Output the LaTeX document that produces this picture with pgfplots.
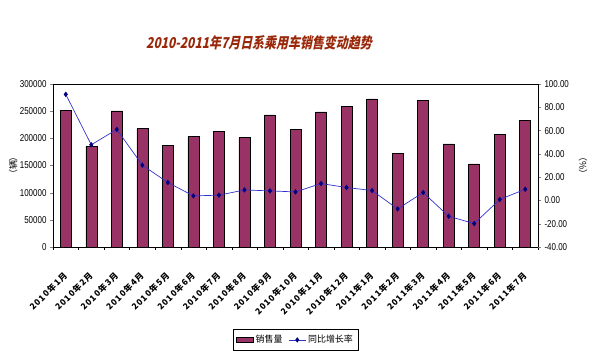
\documentclass[border=0pt]{standalone}
\usepackage{fontspec}
\usepackage{pgfplots}
\pgfplotsset{compat=1.18}
\setmainfont{Liberation Sans}
\newfontfamily\cjk{Noto Sans CJK SC}
\newfontfamily\cjkspaced[LetterSpace=12]{Noto Sans CJK SC}
\newfontfamily\titlefont[FakeSlant=0.2,FakeStretch=0.8]{Noto Sans CJK SC}
\newfontfamily\narrow[FakeStretch=0.8]{Liberation Sans}
\definecolor{barc}{RGB}{153,51,102}
\definecolor{linec}{RGB}{51,51,204}
\definecolor{markc}{RGB}{0,0,128}
\definecolor{titlec}{RGB}{153,40,10}
\begin{document}
\begin{tikzpicture}
\path[use as bounding box] (-53bp,-111bp) rectangle (542bp,247bp);
\node[font=\titlefont\bfseries\fontsize{15}{15}\selectfont, text=titlec] at (206bp,204bp) {2010-2011年7月日系乘用车销售变动趋势};
\begin{axis}[
  at={(0,0)}, anchor=south west, scale only axis,
  width=485bp, height=163bp,
  xmin=-0.5, xmax=18.5, ymin=0, ymax=300000,
  ytick={0,50000,100000,150000,200000,250000,300000},
  yticklabels={0,50000,100000,150000,200000,250000,300000},
  scaled y ticks=false,
  yticklabel style={font=\narrow\fontsize{10}{10}\selectfont},
  ytick pos=left, tick align=outside, major tick length=3bp,
  xtick={0,...,18},
  xtick pos=bottom,
  major x tick style={draw=none},
  minor xtick={-0.5,0.5,...,18.5},
  minor x tick style={black},
  minor tick length=3bp,
  xticklabels={2010年1月,2010年2月,2010年3月,2010年4月,2010年5月,2010年6月,2010年7月,2010年8月,2010年9月,2010年10月,2010年11月,2010年12月,2011年1月,2011年2月,2011年3月,2011年4月,2011年5月,2011年6月,2011年7月},
  xticklabel style={font=\cjkspaced\bfseries\fontsize{8.5}{8.5}\selectfont, rotate=45, anchor=east, inner sep=0pt},
  xticklabel shift=24bp,
  ylabel={\cjk （辆）},
  ylabel style={at={(axis description cs:-0.082,0.5)}, anchor=center, font=\fontsize{9}{9}\selectfont},
  axis line style={black, line width=0.5pt},
  legend style={at={(0.5,-0.57)}, anchor=center, legend columns=2, font=\cjk\fontsize{9}{9}\selectfont, draw=black, line width=0.5pt, inner ysep=4bp, /tikz/every even column/.append style={column sep=4bp}},
]
\addplot[ybar, bar width=11bp, fill=barc, draw=black, line width=0.5pt, area legend] coordinates {
(0,251000) (1,185300) (2,250500) (3,218500) (4,187700) (5,203700) (6,212200) (7,201200) (8,243000) (9,216600) (10,248500) (11,258200) (12,272400) (13,172400) (14,269300) (15,189600) (16,152800) (17,207400) (18,232500)};
\addlegendentry{销售量}
\addlegendimage{color=linec, line width=0.6pt, mark=diamond*, mark size=2.2pt, mark options={fill=markc, draw=markc}}
\addlegendentry{同比增长率}
\end{axis}
\begin{axis}[
  at={(0,0)}, anchor=south west, scale only axis,
  width=485bp, height=163bp,
  xmin=-0.5, xmax=18.5, ymin=-40, ymax=100,
  ytick={-40,-20,0,20,40,60,80,100},
  yticklabels={-40.00,-20.00,0.00,20.00,40.00,60.00,80.00,100.00},
  axis x line=none, axis y line*=right,
  tick align=outside, major tick length=3bp,
  yticklabel style={font=\narrow\fontsize{10}{10}\selectfont},
  ylabel={\cjk （\%）},
  ylabel style={at={(axis description cs:1.093,0.5)}, anchor=center, rotate=180, font=\fontsize{9}{9}\selectfont},
  axis line style={black, line width=0.5pt},
]
\addplot[color=linec, line width=0.7pt, mark=diamond*, mark size=2.2pt, mark options={fill=markc, draw=markc}] coordinates {
(0,91.1) (1,47.8) (2,61.0) (3,30.3) (4,15.4) (5,3.9) (6,4.5) (7,9.0) (8,8.2) (9,7.3) (10,14.5) (11,11.1) (12,8.5) (13,-7.3) (14,6.8) (15,-13.6) (16,-19.9) (17,0.8) (18,9.6)};
\end{axis}
\end{tikzpicture}
\end{document}
